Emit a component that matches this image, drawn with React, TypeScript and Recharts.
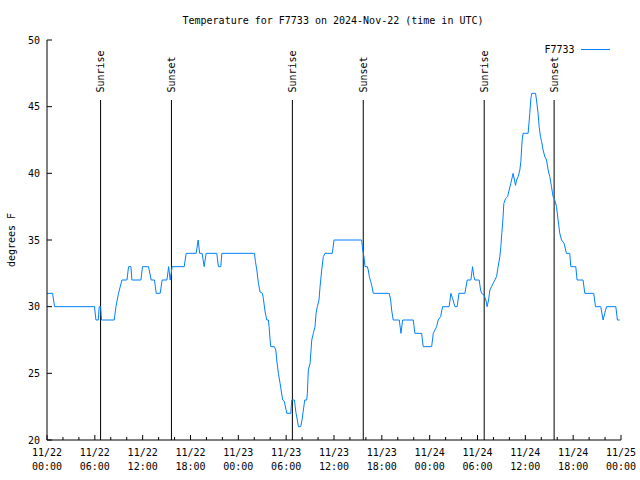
import React from 'react';
import { LineChart, Line, XAxis, YAxis, ReferenceLine, Legend } from 'recharts';

const chartTitle = 'Temperature for F7733 on 2024-Nov-22 (time in UTC)';
const seriesName = 'F7733';
const yAxisTitle = 'degrees F';

// hours since 11/22 00:00 UTC
const hours = [
  0, 0.7, 0.95, 5.96, 6.14, 6.43, 6.55, 6.72, 6.84, 8.43, 8.65, 8.97, 9.4, 10.03, 10.23, 10.53, 10.65, 11.78,
  11.98, 12.73, 13.07, 13.48, 13.7, 14.2, 14.44, 15.04, 15.26, 15.45, 15.7, 17.21, 17.46, 18.71, 18.96, 19.15,
  19.46, 19.71, 19.96, 21.3, 21.5, 21.8, 21.93, 26.02, 26.14, 26.32, 26.52, 26.73, 27.02, 27.14, 27.36, 27.57,
  27.77, 27.86, 27.98, 28.07, 28.52, 28.7, 28.82, 29.02, 29.24, 29.4, 29.57, 29.77, 29.99, 30.08, 30.58, 30.7,
  31.03, 31.24, 31.4, 31.53, 31.83, 31.99, 32.16, 32.33, 32.58, 32.66, 32.78, 33.0, 33.21, 33.41, 33.62, 33.75,
  33.91, 34.12, 34.25, 34.46, 34.66, 34.87, 35.79, 36.0, 39.47, 39.6, 39.76, 39.89, 40.18, 40.3, 40.43, 40.6,
  40.73, 40.85, 40.93, 42.93, 43.11, 43.23, 43.43, 44.19, 44.4, 44.61, 45.94, 46.15, 46.99, 47.19, 48.25, 48.45,
  48.87, 49.07, 49.37, 49.62, 50.45, 50.66, 50.88, 51.17, 51.45, 51.67, 52.42, 52.71, 53.17, 53.38, 53.55, 53.67,
  54.21, 54.39, 54.51, 54.8, 55.05, 55.21, 55.39, 55.55, 55.76, 55.96, 56.18, 56.39, 56.59, 56.8, 56.93, 57.05,
  57.18, 57.31, 57.52, 57.77, 57.97, 58.18, 58.47, 58.77, 58.9, 59.1, 59.31, 59.44, 59.6, 59.72, 60.35, 60.56,
  60.69, 60.81, 61.28, 61.4, 61.6, 61.73, 61.9, 62.03, 62.23, 62.44, 62.66, 62.86, 63.07, 63.28, 63.48, 63.69,
  63.91, 64.11, 64.32, 64.54, 64.86, 65.16, 65.57, 65.7, 66.33, 66.49, 67.24, 67.46, 68.58, 68.8, 69.46, 69.75,
  69.96, 70.18, 71.35, 71.55, 71.84,
];

const temps = [
  31, 31, 30, 30, 29, 29, 30, 30, 29, 29, 30, 31, 32, 32, 33, 33, 32, 32,
  33, 33, 32, 32, 31, 31, 32, 32, 33, 32, 33, 33, 34, 34, 35, 34,
  34, 33, 34, 34, 33, 33, 34, 34, 33.4, 32.75, 31.75, 31.1, 31, 30.6, 29.6, 29,
  29, 28.5, 27.5, 27, 27, 26.75, 26, 25, 24.25, 23.6, 23, 22.9, 22.25, 22, 22, 23,
  23, 22, 21.5, 21, 21, 21.5, 22.25, 23, 23, 23.5, 25.25, 25.75, 27.5, 28, 28.5, 29.5,
  30, 30.5, 31.5, 32.75, 33.75, 34, 34, 35, 35, 34.25, 33.75, 33, 33, 32.75, 32.25, 31.9,
  31.6, 31.25, 31, 31, 30.5, 29.75, 29, 29, 28, 29, 29, 28, 28, 27, 27, 28,
  28.5, 29, 29.25, 30, 30, 31, 30.6, 30, 30, 31, 31, 32, 32, 33, 32.25, 32,
  32, 31.25, 31, 30.9, 30.5, 30, 30.5, 31.25, 31.5, 31.75, 32, 32.25, 33, 33.75, 34.5, 35.5,
  36.5, 37.75, 38.1, 38.25, 38.75, 39.25, 40, 39.1, 39.5, 39.75, 40.25, 40.9, 42.5, 43, 43, 44.5,
  45.6, 46, 46, 45.5, 44.5, 43.5, 42.75, 42.4, 41.75, 41.25, 41, 40.25, 39.75, 39, 38.25, 38,
  37.5, 36.5, 35.5, 35, 34.75, 34, 34, 33, 33, 32, 32, 31, 31, 30, 30, 29,
  29.5, 30, 30, 29, 29,
];

const xTicks = Array.from({ length: 37 }, (_, i) => i * 2);
const dateLabels = ['11/22', '11/22', '11/22', '11/22', '11/23', '11/23', '11/23', '11/23', '11/24', '11/24', '11/24', '11/24', '11/25'];
const timeLabels = ['00:00', '06:00', '12:00', '18:00', '00:00', '06:00', '12:00', '18:00', '00:00', '06:00', '12:00', '18:00', '00:00'];
const yTicks = [20, 25, 30, 35, 40, 45, 50];

const sunHours = [6.72, 15.61, 30.78, 39.67, 54.84, 63.61];
const sunNames = ['Sunrise', 'Sunset', 'Sunrise', 'Sunset', 'Sunrise', 'Sunset'];
const sunLineTop = 45.5;

const data = hours.map((h, i) => ({ h, t: temps[i] }));

const FONT = "'DejaVu Sans Mono', 'Liberation Mono', monospace";
const LINE_COLOR = '#0080ff';

const BottomTick = (props: any) => {
  const { x, y, payload } = props;
  const v = payload.value;
  const major = v % 6 === 0;
  const idx = Math.round(v / 6);
  return (
    <g>
      <line x1={x} x2={x} y1={y} y2={y - (major ? 5 : 3)} stroke="#000" />
      {major && (
        <text x={x} y={y + 16} textAnchor="middle" fontFamily={FONT} fontSize={10} fill="#000">
          {dateLabels[idx]}
        </text>
      )}
      {major && (
        <text x={x} y={y + 30} textAnchor="middle" fontFamily={FONT} fontSize={10} fill="#000">
          {timeLabels[idx]}
        </text>
      )}
    </g>
  );
};

const TopTick = (props: any) => {
  const { x, y, payload } = props;
  const major = payload.value % 6 === 0;
  return <line x1={x} x2={x} y1={y} y2={y + (major ? 5 : 3)} stroke="#000" />;
};

const LeftTick = (props: any) => {
  const { x, y, payload } = props;
  return (
    <g>
      <line x1={x} x2={x + 5} y1={y} y2={y} stroke="#000" />
      <text x={x - 7} y={y + 3.5} textAnchor="end" fontFamily={FONT} fontSize={10} fill="#000">
        {payload.value}
      </text>
    </g>
  );
};

const RightTick = (props: any) => {
  const { x, y } = props;
  return <line x1={x} x2={x - 5} y1={y} y2={y} stroke="#000" />;
};

const sunLabel = (name: string) => (props: any) => {
  const vb = props.viewBox || {};
  const x = vb.x;
  const y = vb.y - 7.5;
  return (
    <text
      x={x}
      y={y}
      dy="0.35em"
      transform={`rotate(-90 ${x} ${y})`}
      textAnchor="start"
      fontFamily={FONT}
      fontSize={10}
      fill="#000"
    >
      {name}
    </text>
  );
};

const yLabel = (props: any) => {
  const vb = props.viewBox || { x: 7, y: 40, width: 40, height: 400 };
  const x = 14.5;
  const y = vb.y + vb.height / 2;
  return (
    <text x={x} y={y} transform={`rotate(-90 ${x} ${y})`} textAnchor="middle" fontFamily={FONT} fontSize={10} fill="#000">
      {yAxisTitle}
    </text>
  );
};

const LegendContent = () => (
  <svg width={100} height={16} style={{ display: 'block' }}>
    <text x={44.5} y={11} textAnchor="end" fontFamily={FONT} fontSize={10} fill="#000">
      {seriesName}
    </text>
    <line x1={51} x2={80} y1={7.5} y2={7.5} stroke={LINE_COLOR} strokeWidth={1} />
  </svg>
);

export default function App() {
  return (
    <div style={{ position: 'absolute', left: 0, top: 0, width: 640, height: 480, background: '#fff' }}>
      <svg width={640} height={480} style={{ position: 'absolute', left: 0, top: 0, pointerEvents: 'none' }}>
        <text x={333} y={24} textAnchor="middle" fontFamily={FONT} fontSize={10} fill="#000">
          {chartTitle}
        </text>
      </svg>
      <LineChart width={640} height={480} data={data} margin={{ top: 40, right: 19, bottom: 0, left: 7 }}>
        <XAxis
          xAxisId="main"
          dataKey="h"
          type="number"
          domain={[0, 72]}
          ticks={xTicks}
          interval={0}
          height={40}
          tickSize={0}
          tickMargin={0}
          tickLine={false}
          axisLine={{ stroke: '#000' }}
          tick={<BottomTick />}
          allowDataOverflow
        />
        <XAxis
          xAxisId="top"
          orientation="top"
          type="number"
          domain={[0, 72]}
          ticks={xTicks}
          interval={0}
          height={0}
          tickSize={0}
          tickMargin={0}
          tickLine={false}
          axisLine={{ stroke: '#000' }}
          tick={<TopTick />}
          allowDataOverflow
        />
        <YAxis
          yAxisId="main"
          type="number"
          domain={[20, 50]}
          ticks={yTicks}
          interval={0}
          width={40}
          tickSize={0}
          tickMargin={0}
          tickLine={false}
          axisLine={{ stroke: '#000' }}
          tick={<LeftTick />}
          label={yLabel}
          allowDataOverflow
        />
        <YAxis
          yAxisId="right"
          orientation="right"
          type="number"
          domain={[20, 50]}
          ticks={yTicks}
          interval={0}
          width={0}
          tickSize={0}
          tickMargin={0}
          tickLine={false}
          axisLine={{ stroke: '#000' }}
          tick={<RightTick />}
          allowDataOverflow
        />
        {sunHours.map((h, i) => (
          <ReferenceLine
            key={`sun-${i}`}
            xAxisId="main"
            yAxisId="main"
            segment={[
              { x: h, y: 20 },
              { x: h, y: sunLineTop },
            ]}
            stroke="#000"
            strokeWidth={1}
            ifOverflow="visible"
            label={sunLabel(sunNames[i])}
          />
        ))}
        <Line
          xAxisId="main"
          yAxisId="main"
          type="linear"
          dataKey="t"
          name={seriesName}
          stroke={LINE_COLOR}
          strokeWidth={1}
          dot={false}
          activeDot={false}
          isAnimationActive={false}
        />
        <Legend
          layout="vertical"
          align="center"
          verticalAlign="middle"
          wrapperStyle={{ position: 'absolute', left: 530, top: 42, width: 100, height: 16 }}
          content={<LegendContent />}
        />
      </LineChart>
    </div>
  );
}
